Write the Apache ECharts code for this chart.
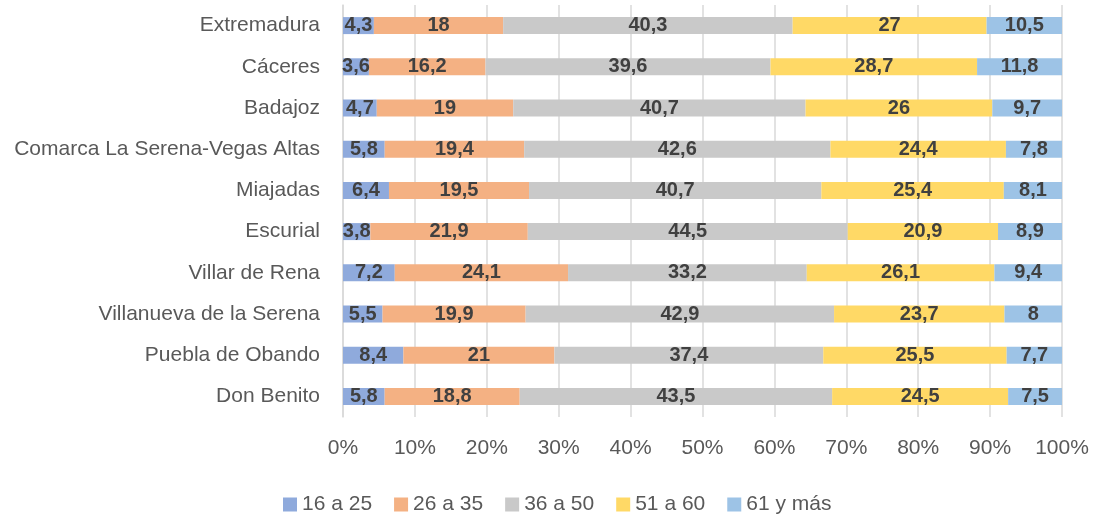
<!DOCTYPE html>
<html lang="es">
<head>
    <meta charset="UTF-8">
    <title>Edad por zonas</title>
    <script src="https://cdn.jsdelivr.net/npm/echarts@6/dist/echarts.min.js"></script>
</head>
<body style="margin:0">
<div id="main" style="width:1095px;height:520px;"></div>
<script type="text/javascript">
    // categorias de abajo a arriba
    var zonas = ['Don Benito', 'Puebla de Obando', 'Villanueva de la Serena', 'Villar de Rena',
        'Escurial', 'Miajadas', 'Comarca La Serena-Vegas Altas', 'Badajoz', 'Cáceres', 'Extremadura'];
    var tramos = ['16 a 25', '26 a 35', '36 a 50', '51 a 60', '61 y más'];

    var v16a25 = [5.8, 8.4, 5.5, 7.2, 3.8, 6.4, 5.8, 4.7, 3.6, 4.3];
    var v26a35 = [18.8, 21, 19.9, 24.1, 21.9, 19.5, 19.4, 19, 16.2, 18];
    var v36a50 = [43.5, 37.4, 42.9, 33.2, 44.5, 40.7, 42.6, 40.7, 39.6, 40.3];
    var v51a60 = [24.5, 25.5, 23.7, 26.1, 20.9, 25.4, 24.4, 26, 28.7, 27];
    var v61mas = [7.5, 7.7, 8, 9.4, 8.9, 8.1, 7.8, 9.7, 11.8, 10.5];

    var colores = ['#8faadc', '#f4b183', '#c9c9c9', '#ffd966', '#9dc3e6'];
    var valores = [v16a25, v26a35, v36a50, v51a60, v61mas];

    // barras al 100%: se normaliza cada fila
    var totales = zonas.map(function (z, i) {
        var s = 0;
        for (var k = 0; k < valores.length; k++) s += valores[k][i];
        return s;
    });

    var series = tramos.map(function (t, k) {
        return {
            name: t,
            type: 'bar',
            stack: 'total',
            barWidth: 17,
            itemStyle: {color: colores[k]},
            label: {
                show: true,
                position: 'inside',
                color: '#404040',
                fontWeight: 'bold',
                fontSize: 20,
                fontFamily: 'Liberation Sans',
                formatter: function (p) {
                    return String(valores[k][p.dataIndex]).replace('.', ',');
                }
            },
            data: valores[k].map(function (v, i) {
                return v / totales[i] * 100;
            })
        };
    });

    var chart = echarts.init(document.getElementById('main'));
    chart.setOption({
        animation: false,
        textStyle: {fontFamily: 'Liberation Sans'},
        grid: {left: 343, right: 33, top: 5, bottom: 103, containLabel: false},
        legend: {
            top: 489,
            left: 278,
            itemWidth: 14,
            itemHeight: 14,
            itemGap: 22,
            icon: 'rect',
            textStyle: {color: '#595959', fontSize: 21},
            data: tramos
        },
        xAxis: {
            type: 'value',
            min: 0,
            max: 100,
            interval: 10,
            axisLine: {show: false},
            axisTick: {show: false},
            splitLine: {lineStyle: {color: '#d9d9d9', width: 1.5}},
            axisLabel: {
                color: '#595959', fontSize: 21, margin: 21,
                formatter: '{value}%'
            }
        },
        yAxis: {
            type: 'category',
            data: zonas,
            axisLine: {lineStyle: {color: '#d9d9d9', width: 1.5}},
            axisTick: {show: false},
            axisLabel: {color: '#595959', fontSize: 21, margin: 23}
        },
        series: series
    });
</script>
</body>
</html>
